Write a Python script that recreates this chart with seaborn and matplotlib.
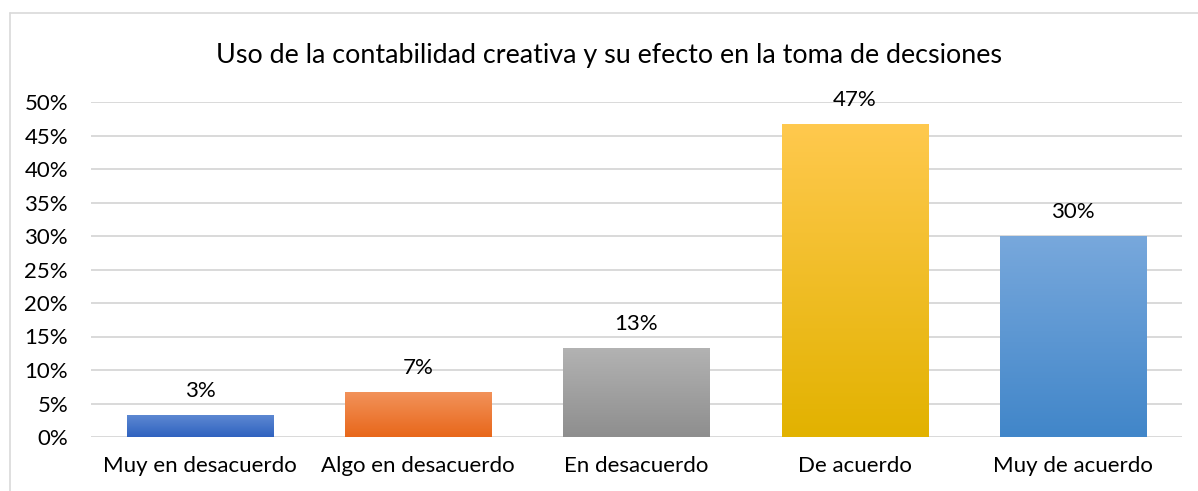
import numpy as np
import pandas as pd
import matplotlib
matplotlib.use("Agg")
import matplotlib.pyplot as plt
import seaborn as sns
from matplotlib.colors import LinearSegmentedColormap
from matplotlib.ticker import PercentFormatter

categories = ["Muy en desacuerdo", "Algo en desacuerdo", "En desacuerdo", "De acuerdo", "Muy de acuerdo"]
values = [0.0333, 0.0667, 0.1333, 0.4667, 0.30]
labels = ["3%", "7%", "13%", "47%", "30%"]
title = "Uso de la contabilidad creativa y su efecto en la toma de decsiones"

# gradient (top, bottom) per bar
grad_colors = [("#5f8ad3", "#2f62bf"), ("#f2925a", "#e8671a"), ("#b3b3b3", "#8e8e8e"),
               ("#ffc94e", "#e2b200"), ("#78a8dc", "#4186c9")]
base_colors = ["#4472c4", "#ed7d31", "#a5a5a5", "#ffc000", "#5b9bd5"]

sns.set_theme(style="white")
plt.rcParams['font.family'] = ['Lato', 'DejaVu Sans']

fig = plt.figure(figsize=(11.98, 4.91), dpi=100)
ax = fig.add_axes([91/1198, 1-437/491, (1182-91)/1198, (437-102)/491])

df = pd.DataFrame({"cat": categories, "val": values})
sns.barplot(data=df, x="cat", y="val", hue="cat", palette=base_colors, legend=False,
            width=0.67, ax=ax, zorder=3)

ax.set_ylim(0, 0.5)
ax.set_yticks(np.arange(0, 0.51, 0.05))
ax.yaxis.set_major_formatter(PercentFormatter(1.0, decimals=0))
ax.grid(axis="y", color="#d9d9d9", linewidth=1.4, zorder=0)
ax.set_axisbelow(True)
for s in ax.spines.values():
    s.set_visible(False)
ax.set_xlabel("")
ax.set_ylabel("")
ax.tick_params(axis="both", length=0, labelsize=16, colors="#000000")
ax.tick_params(axis="x", pad=14)
ax.tick_params(axis="y", pad=16.5)
for t in ax.get_yticklabels():
    t.set_horizontalalignment("right")

ax.set_xlim(-0.5, len(categories) - 0.5)

for patch, (top, bot), lab in zip(ax.patches, grad_colors, labels):
    x0, y0 = patch.get_x(), patch.get_y()
    w, h = patch.get_width(), patch.get_height()
    cmap = LinearSegmentedColormap.from_list("g", [bot, top])
    grad = np.linspace(0, 1, 256).reshape(-1, 1)
    im = ax.imshow(grad, cmap=cmap, aspect="auto", origin="lower",
                   extent=[x0, x0 + w, y0, y0 + h], zorder=4)
    im.set_clip_path(patch)
    patch.set_edgecolor("none")
    ax.text(x0 + w / 2, y0 + h + 0.021, lab, ha="center", va="bottom",
            fontsize=16, color="#000000", zorder=5)

ax.set_xlim(-0.5, len(categories) - 0.5)
ax.set_ylim(0, 0.5)

fig.text(609/1198, 1-55/491, title, ha="center", va="center", fontsize=19.4, color="#000000")

# outer chart frame (left and top visible)
fig.add_artist(plt.Line2D([10/1198, 10/1198], [0, 1-13/491], transform=fig.transFigure,
                          color="#d9d9d9", linewidth=1.2))
fig.add_artist(plt.Line2D([10/1198, 1], [1-13/491, 1-13/491], transform=fig.transFigure,
                          color="#d9d9d9", linewidth=1.2))

fig.savefig("out.png", dpi=100, facecolor="white")
